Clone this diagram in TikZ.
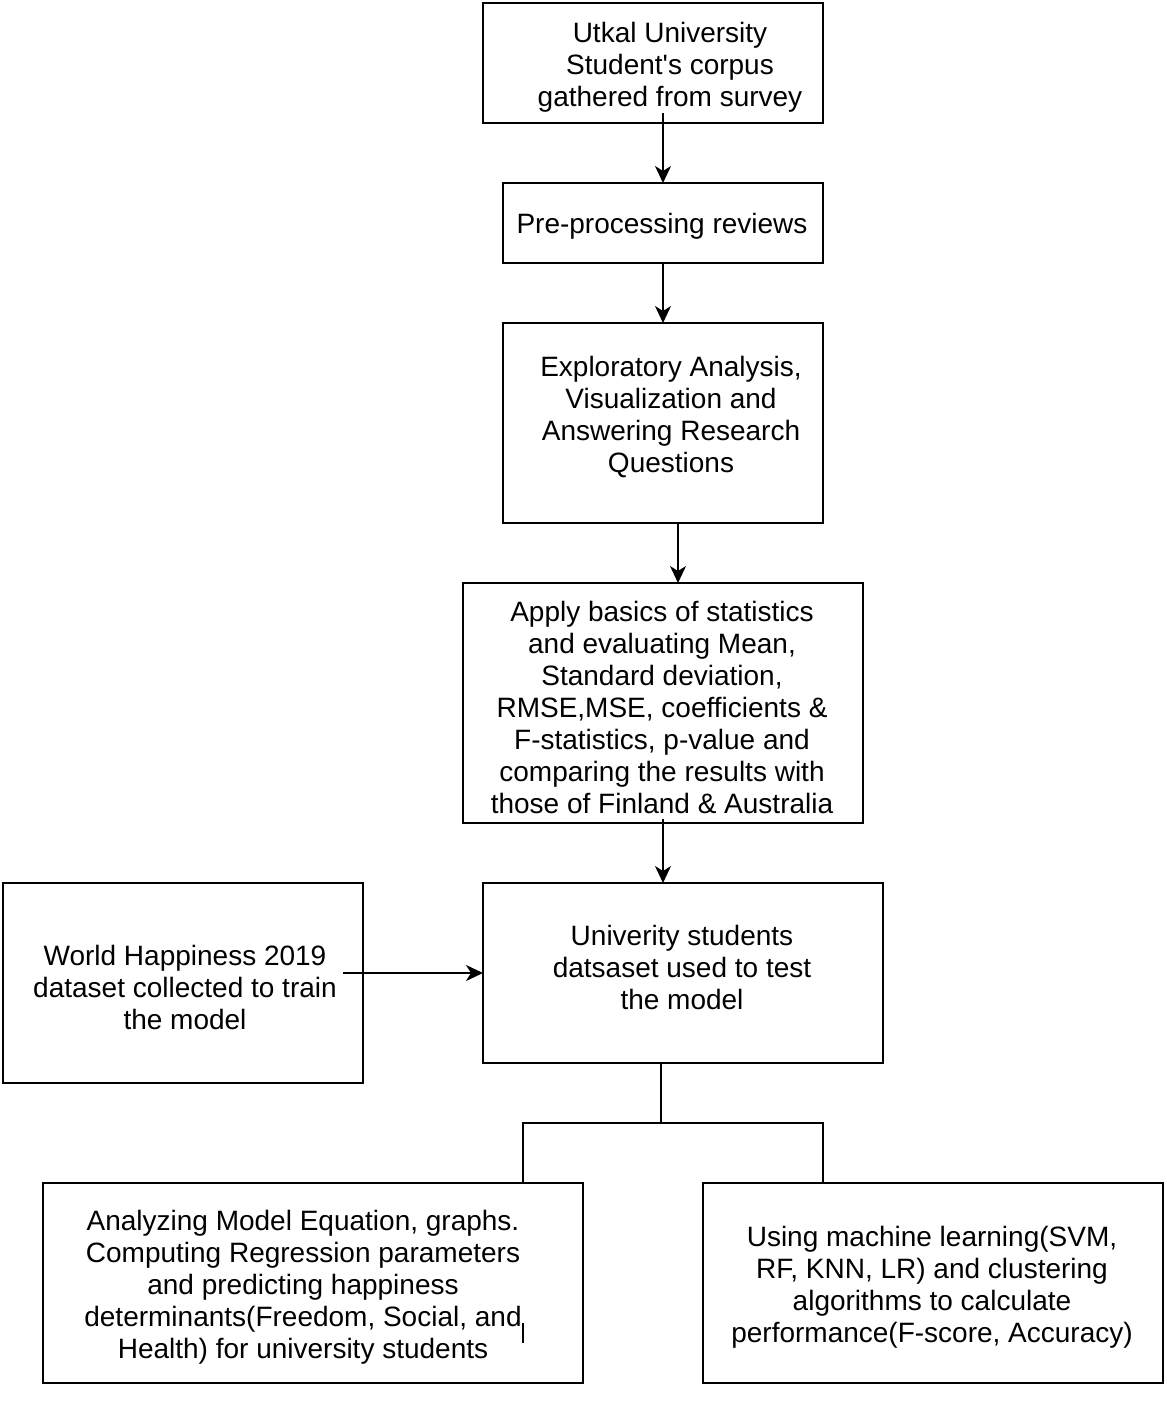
\documentclass[tikz,border=0pt]{standalone}
\usepackage{fontspec}
\setmainfont{Liberation Sans}
\usetikzlibrary{arrows.meta,calc}
\begin{document}
\begin{tikzpicture}[x=1pt,y=-1pt,
  box/.style={draw,line width=1.6pt,inner sep=0pt,outer sep=0pt},
  txt/.style={inner sep=0pt,align=center,font=\fontsize{28}{32}\selectfont},
  arr/.style={line width=1.6pt,-{Stealth[length=17pt,width=16pt,inset=5pt]}},
  conn/.style={line width=1.6pt}]
\useasboundingbox (0,0) rectangle (1167,1406);
% boxes
\node[box,minimum width=340pt,minimum height=120pt] (b1) at (653,63) {};
\node[box,minimum width=320pt,minimum height=80pt] (b2) at (663,223) {};
\node[box,minimum width=320pt,minimum height=200pt] (b3) at (663,423) {};
\node[box,minimum width=400pt,minimum height=240pt] (b4) at (663,703) {};
\node[box,minimum width=400pt,minimum height=180pt] (b5) at (683,973) {};
\node[box,minimum width=360pt,minimum height=200pt] (b6) at (183,983) {};
\node[box,minimum width=540pt,minimum height=200pt] (b7) at (313,1283) {};
\node[box,minimum width=460pt,minimum height=200pt] (b8) at (933,1283) {};
% texts
\node[txt] (t1) at (670,67) {Utkal University\\Student\textquotesingle s corpus\\gathered from survey};
\node[txt] (t2) at (662,226) {Pre-processing reviews};
\node[txt] (t3) at (671,417) {Exploratory Analysis,\\Visualization and\\Answering Research\\Questions};
\node[txt] (t4) at (662,707) {Apply basics of statistics\\and evaluating Mean,\\Standard deviation,\\RMSE,MSE, coefficients \&\\F-statistics, p-value and\\comparing the results with\\those of Finland \& Australia};
\node[txt] (t5) at (682,967) {Univerity students\\datsaset used to test\\the model};
\node[txt] (t6) at (185,987) {World Happiness 2019\\dataset collected to train\\the model};
\node[txt] (t7) at (303,1287) {Analyzing Model Equation, graphs.\\Computing Regression parameters\\and predicting happiness\\determinants(Freedom, Social, and\\Health) for university students};
\node[txt] (t8) at (932,1287) {Using machine learning(SVM,\\RF, KNN, LR) and clustering\\algorithms to calculate\\performance(F-score, Accuracy)};
% arrows
\draw[arr] ([yshift=10pt]b1.south -| b2.north) -- (b2.north);
\draw[arr] (b2.south) -- (b3.north);
\draw[arr] ([xshift=15pt]b3.south) -- ([xshift=15pt]b3.south |- b4.north);
\draw[arr] ([yshift=4pt]b4.south) -- (b4.south |- b5.north);
\draw[arr] ([xshift=-20pt]b6.east |- b5.west) -- (b5.west);
% tree connector
\coordinate (s5) at ([xshift=-22pt]b5.south);
\coordinate (jn) at ($(s5)+(0,60)$);
\coordinate (l7) at (523,1183);
\coordinate (r8) at (823,1183);
\draw[conn] (s5) -- (jn);
\draw[conn] (l7) |- (jn) -| (r8);
% small mark
\coordinate (m1) at (523,1323);
\coordinate (m2) at (523,1343);
\draw[line width=1.2pt] (m1) -- (m2);
\end{tikzpicture}
\end{document}
